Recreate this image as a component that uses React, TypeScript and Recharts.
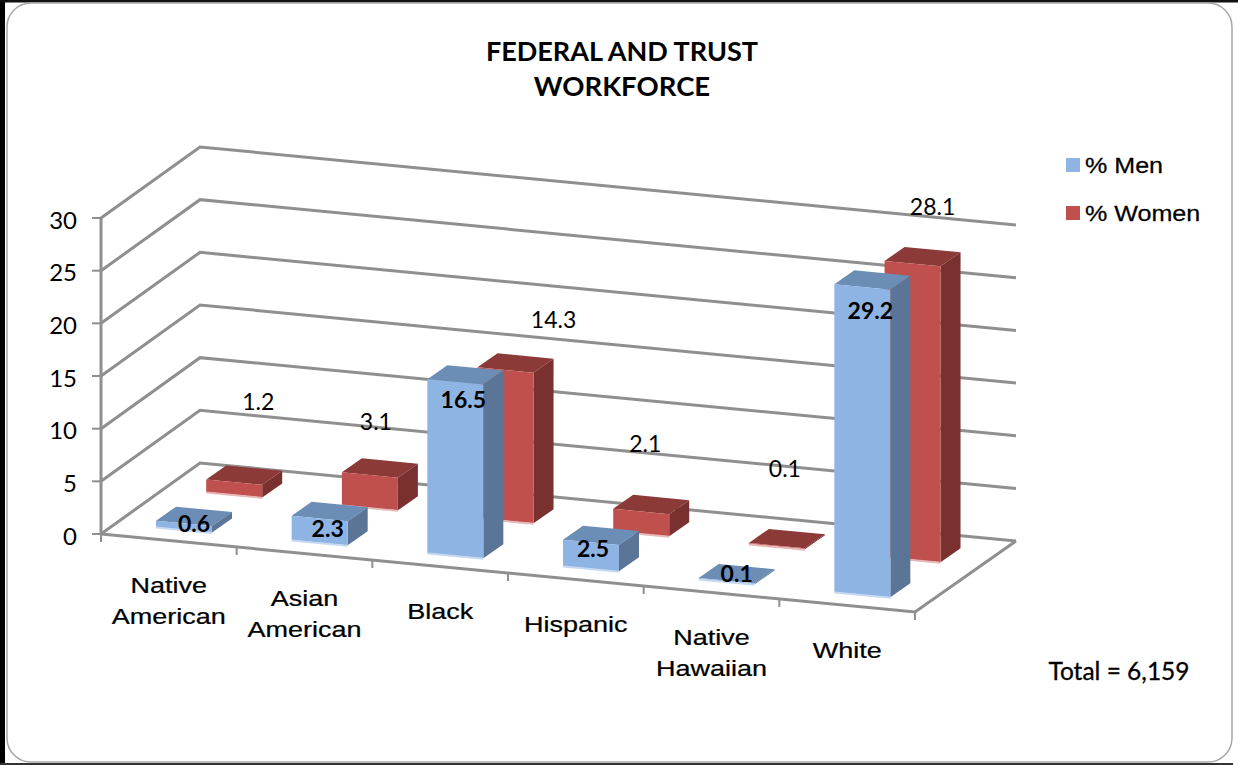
import { BarChart, Bar, XAxis, YAxis, CartesianGrid, Legend, LabelList } from 'recharts'

const categories = ['Native American', 'Asian American', 'Black', 'Hispanic', 'Native Hawaiian', 'White']
const menValues = [0.6, 2.3, 16.5, 2.5, 0.1, 29.2]
const womenValues = [1.2, 3.1, 14.3, 2.1, 0.1, 28.1]
const yTicks = [0, 5, 10, 15, 20, 25, 30]

const data = categories.map((name, i) => ({ name, men: menValues[i], women: womenValues[i] }))

// chart box and the oblique projection of the floor
const WIDTH = 1238
const HEIGHT = 765
const PLOT_LEFT = 101
const PLOT_TOP = 218
const PLOT_BOTTOM = 534
const PLOT_WIDTH = 814
const SLOPE = 0.0957
const WALL_DX = 99
const WALL_DY = -71
const BAR_WIDTH = 56
const BOX_DX = 20
const BOX_DY = -14
const GRID = '#8f8f8f'

const skew = (x: number) => (x - PLOT_LEFT) * SLOPE

const ARIAL = '"Liberation Sans", Arial, sans-serif'
const LATO = 'Lato, sans-serif'

const menBox = { dx: 15, dy: -10.8, front: '#8eb4e3', top: '#6c8db5', side: '#5a7596', edge: '#c6d9f1' }
const womenBox = { dx: 65.2, dy: -45.8, front: '#c0504d', top: '#8c3a38', side: '#79302e', edge: '#e6b9b8' }

// label placement relative to the top-front of each box
const menLabelNudge = [[10, 0], [8, 10], [8, 17], [2, 6], [10, -8], [8, 23]]
const womenLabelNudge = [[24, -81], [6, -54], [48, -51], [4, -69], [8, -78], [20, -58]]

function pts(list: number[][]) {
  return list.map((p) => p.join(',')).join(' ')
}

function Box3D({ x, y, width, height, look }: any) {
  const lift = (px: number) => skew(px) + look.dy
  const left = x + look.dx
  const right = left + width
  const topL = y + skew(x) + look.dy
  const topR = y + lift(x + width)
  const botL = topL + height
  const botR = topR + height
  return (
    <g>
      <polygon
        points={pts([[left, topL], [right, topR], [right + BOX_DX, topR + BOX_DY], [left + BOX_DX, topL + BOX_DY]])}
        fill={look.top}
      />
      <polygon
        points={pts([[right, topR], [right + BOX_DX, topR + BOX_DY], [right + BOX_DX, botR + BOX_DY], [right, botR]])}
        fill={look.side}
      />
      <polygon points={pts([[left, topL], [right, topR], [right, botR], [left, botL]])} fill={look.front} />
      <line x1={left} y1={botL + 0.5} x2={right} y2={botR + 0.5} stroke={look.edge} strokeWidth={2} />
    </g>
  )
}

function valueLabel(look: any, nudges: number[][], weight: number) {
  return (props: any) => {
    const box = props.viewBox ?? props
    const [nx, ny] = nudges[props.index]
    const cx = box.x + look.dx + box.width / 2 + nx
    const cy = box.y + skew(box.x + box.width / 2) + look.dy + ny
    return (
      <text x={cx} y={cy} textAnchor="middle" dominantBaseline="central" fontFamily={LATO} fontSize={23} fontWeight={weight} fill="#000">
        {props.value}
      </text>
    )
  }
}

// walls: one line up the left side and along the back for each tick, plus the floor outline at zero
function WallLine({ x1, y1, x2 }: any) {
  const backLeftX = x1 + WALL_DX
  const backLeftY = y1 + WALL_DY
  const backRightX = x2 + WALL_DX + 2
  const backRightY = backLeftY + (backRightX - backLeftX) * SLOPE
  const isFloor = Math.abs(y1 - PLOT_BOTTOM) < 1
  return (
    <g fill="none" stroke={GRID} strokeWidth={3}>
      <path d={`M${x1} ${y1} L${backLeftX} ${backLeftY} L${backRightX} ${backRightY}`} />
      {isFloor && (
        <path d={`M${x1} ${y1} L${x2} ${y1 + skew(x2)} L${backRightX} ${backRightY}`} />
      )}
    </g>
  )
}

function CategoryTick({ x, payload, index }: any) {
  const band = PLOT_WIDTH / categories.length
  const edge = x - band / 2
  const lines = String(payload.value).split(' ')
  const firstLine = PLOT_BOTTOM + skew(x) + 45
  return (
    <g>
      <line x1={edge} y1={PLOT_BOTTOM + skew(edge)} x2={edge} y2={PLOT_BOTTOM + skew(edge) + 8} stroke={GRID} strokeWidth={2} />
      {index === categories.length - 1 && (
        <line x1={edge + band} y1={PLOT_BOTTOM + skew(edge + band)} x2={edge + band} y2={PLOT_BOTTOM + skew(edge + band) + 8} stroke={GRID} strokeWidth={2} />
      )}
      {lines.map((line, i) => (
        <text
          key={line}
          transform={`translate(${x} ${firstLine + i * 30.5}) scale(1.2 1)`}
          textAnchor="middle"
          dominantBaseline="central"
          fontFamily={ARIAL}
          fontSize={22.5}
          stroke="#000"
          strokeWidth={0.25}
          fill="#000"
        >
          {line}
        </text>
      ))}
    </g>
  )
}

function LegendBlock({ payload }: any) {
  const items = [...(payload ?? [])].sort((a: any, b: any) => String(a.value).localeCompare(String(b.value)))
  return (
    <svg width={150} height={90} style={{ display: 'block' }}>
      {items.map((item: any, i: number) => (
        <g key={item.value} transform={`translate(0 ${8 + i * 48})`}>
          <rect x={0} y={0} width={14} height={14} fill={item.color} />
          <text
            transform="translate(19 15) scale(1.14 1)"
            fontFamily={ARIAL}
            fontSize={22}
            stroke="#000"
            strokeWidth={0.25}
            fill="#000"
          >
            {item.value}
          </text>
        </g>
      ))}
    </svg>
  )
}

export default function App() {
  return (
    <div style={{ position: 'absolute', left: 0, top: 0, width: WIDTH, height: HEIGHT, background: '#fff', overflow: 'hidden' }}>
      <BarChart
        width={WIDTH}
        height={HEIGHT}
        data={data}
        barSize={BAR_WIDTH}
        barGap={-BAR_WIDTH}
        margin={{ top: PLOT_TOP, right: WIDTH - PLOT_LEFT - PLOT_WIDTH, bottom: HEIGHT - PLOT_BOTTOM - 30, left: 0 }}
      >
        {/* outer frame */}
        <rect x={0} y={0} width={5} height={HEIGHT} fill="#000" />
        <rect x={0} y={0} width={WIDTH} height={2.5} fill="#111" />
        <rect x={0} y={763} width={1233} height={2} fill="#333" />
        <rect x={7} y={3} width={1225} height={759} rx={24} fill="none" stroke="#a6a6a6" strokeWidth={1.5} />

        <text x={622} y={61} textAnchor="middle" fontFamily={LATO} fontWeight={700} fontSize={27} fill="#000">
          FEDERAL AND TRUST
        </text>
        <text x={622} y={96} textAnchor="middle" fontFamily={LATO} fontWeight={700} fontSize={27.5} fill="#000">
          WORKFORCE
        </text>
        <text x={1119} y={680} textAnchor="middle" fontFamily={LATO} fontSize={24.5} stroke="#000" strokeWidth={0.3} fill="#000">
          Total = 6,159
        </text>

        <CartesianGrid vertical={false} horizontal={(props: any) => <WallLine key={props.key ?? props.index} {...props} />} />
        <XAxis
          dataKey="name"
          height={30}
          axisLine={false}
          tickLine={false}
          interval={0}
          tick={(props: any) => <CategoryTick {...props} />}
        />
        <YAxis
          width={PLOT_LEFT}
          domain={[0, 30]}
          ticks={yTicks}
          interval={0}
          axisLine={{ stroke: GRID, strokeWidth: 3 }}
          tickLine={{ stroke: GRID, strokeWidth: 2 }}
          tickSize={9}
          tickMargin={15}
          tick={{ fill: '#000', fontFamily: LATO, fontSize: 24, dy: 2 }}
        />
        <Legend
          layout="horizontal"
          align="center"
          verticalAlign="middle"
          wrapperStyle={{ left: 1066, top: 150, width: 150, height: 90 }}
          content={(props: any) => <LegendBlock {...props} />}
        />
        <Bar
          dataKey="women"
          name="% Women"
          fill={womenBox.front}
          isAnimationActive={false}
          shape={(props: any) => <Box3D {...props} look={womenBox} />}
        >
          <LabelList dataKey="women" content={valueLabel(womenBox, womenLabelNudge, 400)} />
        </Bar>
        <Bar
          dataKey="men"
          name="% Men"
          fill={menBox.front}
          isAnimationActive={false}
          shape={(props: any) => <Box3D {...props} look={menBox} />}
        >
          <LabelList dataKey="men" content={valueLabel(menBox, menLabelNudge, 700)} />
        </Bar>
      </BarChart>
    </div>
  )
}
